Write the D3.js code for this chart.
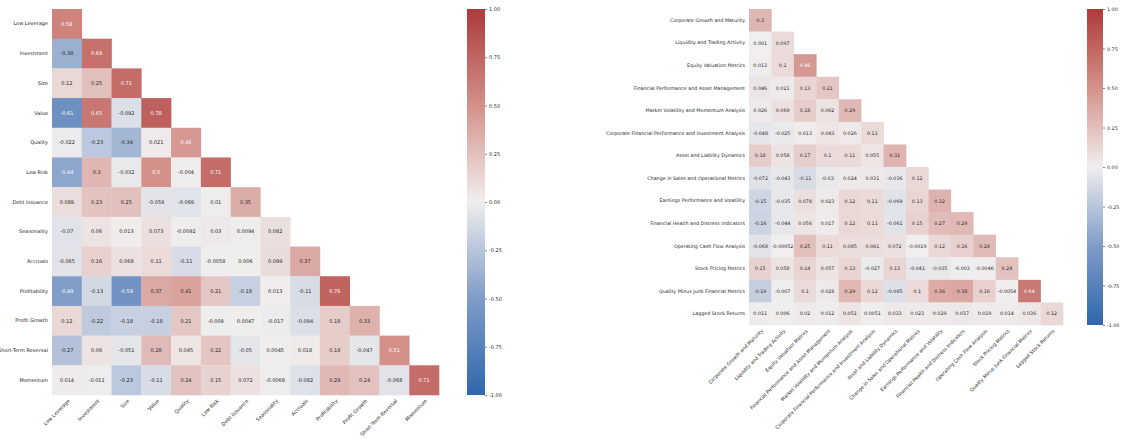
<!DOCTYPE html>
<html><head><meta charset="utf-8">
<script src="https://cdn.jsdelivr.net/npm/d3@7"></script>
<style>body{margin:0;background:#fff}svg{display:block}text{font-family:"DejaVu Sans",sans-serif}</style>
</head><body><svg id="c" width="1121" height="439"></svg>
<script>
const factorLabels = ["Low Leverage","Investment","Size","Value","Quality","Low Risk","Debt Issuance","Seasonality","Accruals","Profitability","Profit Growth","Short-Term Reversal","Momentum"];
const factorCorr = [
  [0.58],
  [-0.38, 0.69],
  [0.12, 0.25, 0.71],
  [-0.61, 0.65, -0.092, 0.78],
  [-0.022, -0.23, -0.34, 0.021, 0.46],
  [-0.44, 0.3, -0.032, 0.5, -0.004, 0.71],
  [0.089, 0.23, 0.25, -0.059, -0.069, 0.01, 0.35],
  [-0.07, 0.06, 0.013, 0.073, -0.0092, 0.03, 0.0094, 0.082],
  [-0.065, 0.16, 0.068, 0.11, -0.11, -0.0058, 0.006, 0.099, 0.37],
  [-0.49, -0.13, -0.59, 0.37, 0.41, 0.21, -0.18, 0.013, -0.11, 0.76],
  [0.12, -0.22, -0.18, -0.18, 0.21, -0.009, 0.0047, -0.017, -0.094, 0.18, 0.33],
  [-0.27, 0.06, -0.051, 0.28, 0.045, 0.22, -0.05, 0.0045, 0.018, 0.18, -0.047, 0.51],
  [0.014, -0.011, -0.23, -0.11, 0.24, 0.15, 0.072, -0.0068, -0.082, 0.29, 0.24, -0.068, 0.71]
];
const themeLabels = ["Corporate Growth and Maturity","Liquidity and Trading Activity","Equity Valuation Metrics","Financial Performance and Asset Management","Market Volatility and Momentum Analysis","Corporate Financial Performance and Investment Analysis","Asset and Liability Dynamics","Change in Sales and Operational Metrics","Earnings Performance and Volatility","Financial Health and Distress Indicators","Operating Cash Flow Analysis","Stock Pricing Metrics","Quality Minus Junk Financial Metrics","Lagged Stock Returns"];
const themeCorr = [
  [0.3],
  [0.001, 0.097],
  [0.013, 0.1, 0.46],
  [0.046, 0.021, 0.13, 0.21],
  [0.026, 0.069, 0.18, 0.062, 0.29],
  [-0.048, -0.025, 0.013, 0.043, 0.026, 0.11],
  [0.18, 0.058, 0.17, 0.1, 0.11, 0.055, 0.31],
  [-0.072, -0.043, -0.11, -0.03, 0.024, 0.031, -0.036, 0.12],
  [-0.15, -0.035, 0.078, 0.023, 0.12, 0.11, -0.069, 0.13, 0.32],
  [-0.16, -0.044, 0.056, 0.017, 0.12, 0.11, -0.061, 0.15, 0.27, 0.29],
  [-0.068, -0.00052, 0.25, 0.11, 0.085, 0.081, 0.072, -0.0019, 0.12, 0.16, 0.28],
  [0.15, 0.058, 0.14, 0.057, 0.13, -0.027, 0.13, -0.041, -0.035, -0.003, -0.0046, 0.24],
  [-0.19, -0.007, 0.1, 0.028, 0.29, 0.12, -0.085, 0.1, 0.36, 0.38, 0.16, -0.0054, 0.64],
  [0.011, 0.006, 0.02, 0.012, 0.051, 0.0051, 0.033, 0.023, 0.029, 0.037, 0.019, 0.014, 0.036, 0.12]
];
const colorbarTicks = [1, 0.75, 0.5, 0.25, 0, -0.25, -0.5, -0.75, -1];

const loc = d3.formatLocale({decimal:".", thousands:",", grouping:[3], currency:["",""], minus:"-"});
const fmtCell = loc.format(".2");
const fmtTick = loc.format(".2f");
const cmap = d3.piecewise(d3.interpolateRgb, ["#2f66ad", "#7f9cc8", "#f0eeee", "#d4918a", "#ad3a3a"]);
const color = d3.scaleSequential(cmap).domain([-1, 1]);

function lum(c) {
  const r = d3.rgb(c);
  const f = v => { v /= 255; return v <= 0.03928 ? v / 12.92 : Math.pow((v + 0.055) / 1.055, 2.4); };
  return 0.2126 * f(r.r) + 0.7152 * f(r.g) + 0.0722 * f(r.b);
}

const svg = d3.select("#c");
const defs = svg.append("defs");

function heatmap(id, labels, rows, box, cb) {
  const g = svg.append("g");
  const x = d3.scaleBand().domain(labels).range([box.x0, box.x1]);
  const y = d3.scaleBand().domain(labels).range([box.y0, box.y1]);
  const cells = rows.flatMap((r, i) => r.map((v, j) => ({row: labels[i], col: labels[j], v})));
  g.selectAll("rect.cell").data(cells).join("rect")
    .attr("class", "cell")
    .attr("x", d => x(d.col)).attr("y", d => y(d.row))
    .attr("width", x.bandwidth() + 0.3).attr("height", y.bandwidth() + 0.3)
    .attr("fill", d => color(d.v));
  g.selectAll("text.ann").data(cells).join("text")
    .attr("class", "ann")
    .attr("x", d => x(d.col) + x.bandwidth() / 2)
    .attr("y", d => y(d.row) + y.bandwidth() / 2)
    .attr("dy", "0.35em").attr("text-anchor", "middle")
    .attr("font-size", box.fs)
    .attr("fill", d => lum(color(d.v)) > 0.408 ? "#262626" : "#ffffff")
    .text(d => fmtCell(d.v));

  const ya = g.append("g").attr("transform", `translate(${box.x0},0)`)
    .call(d3.axisLeft(y).tickSize(0).tickPadding(4));
  ya.select(".domain").remove();
  ya.selectAll("text").attr("font-size", box.fs).attr("fill", "#262626").style("font-family", "DejaVu Sans");

  const xa = g.append("g").attr("transform", `translate(0,${box.y1})`)
    .call(d3.axisBottom(x).tickSize(0));
  xa.select(".domain").remove();
  xa.selectAll("text")
    .attr("font-size", box.fs).attr("fill", "#262626").style("font-family", "DejaVu Sans")
    .attr("text-anchor", "end").attr("x", 0).attr("y", 0).attr("dy", "0.35em")
    .attr("transform", "translate(2,5) rotate(-45)");

  const grad = defs.append("linearGradient").attr("id", id)
    .attr("x1", "0").attr("y1", "1").attr("x2", "0").attr("y2", "0");
  d3.range(0, 1.0001, 0.05).forEach(t => {
    grad.append("stop").attr("offset", t).attr("stop-color", color(-1 + 2 * t));
  });
  const cy = d3.scaleLinear().domain([-1, 1]).range([box.y1, box.y0]);
  g.append("rect").attr("x", cb.x).attr("y", box.y0).attr("width", cb.w)
    .attr("height", box.y1 - box.y0).attr("fill", `url(#${id})`);
  const ca = g.append("g").attr("transform", `translate(${cb.x + cb.w},0)`)
    .call(d3.axisRight(cy).tickValues(colorbarTicks).tickFormat(fmtTick).tickSize(2).tickPadding(2));
  ca.select(".domain").remove();
  ca.selectAll("line").attr("stroke", "#333").attr("stroke-width", 0.6);
  ca.selectAll("text").attr("font-size", box.fs).attr("fill", "#262626").style("font-family", "DejaVu Sans");
}

heatmap("cbL", factorLabels, factorCorr, {x0: 52, x1: 439, y0: 9, y1: 395, fs: 5}, {x: 467, w: 18});
heatmap("cbR", themeLabels, themeCorr, {x0: 749, x1: 1063, y0: 9, y1: 325, fs: 4.8}, {x: 1087, w: 16});
</script></body></html>
